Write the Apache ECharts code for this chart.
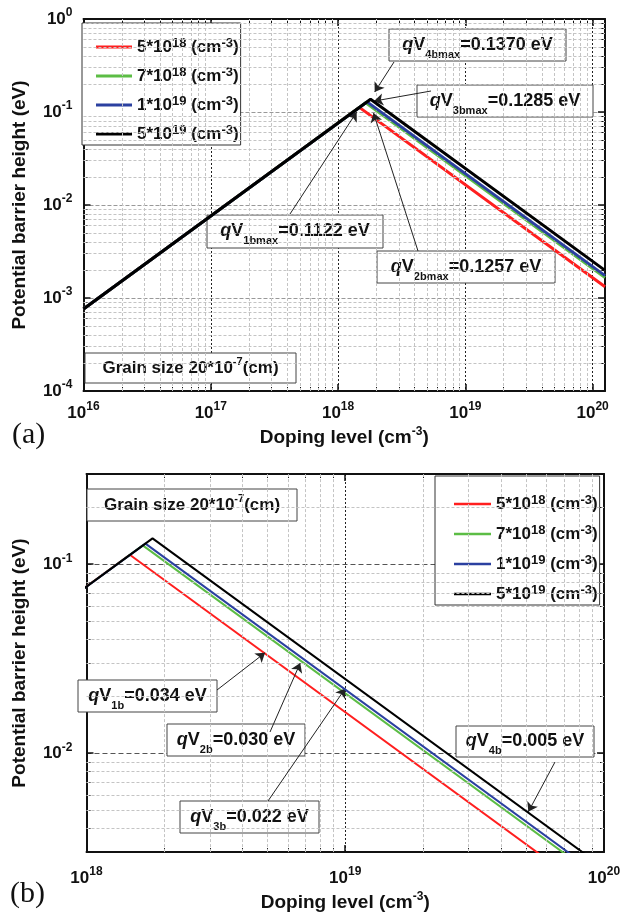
<!DOCTYPE html>
<html>
<head>
<meta charset="utf-8">
<title>Potential barrier height vs doping level</title>
<script src="https://cdn.jsdelivr.net/npm/echarts@6.0.0/dist/echarts.min.js"></script>
<style>
  html, body { margin: 0; padding: 0; background: #fff; }
  #chart { width: 625px; height: 916px; }
</style>
</head>
<body>
<div id="chart"></div>
<script>
var chart = echarts.init(document.getElementById('chart'));
var chartFont = '"Liberation Sans", Arial, sans-serif';

// curves (doping in cm^-3, barrier height in eV)
var seriesNames = ['5*10^18', '7*10^18', '1*10^19', '5*10^19'];
var legendMantissa = ['5', '7', '1', '5'];
var legendExponent = ['18', '18', '19', '19'];
var seriesColors = ['#ff1f1f', '#5cbd45', '#2b40a0', '#000000'];
var dopingStart = 1e16;
var dopingEnd = 1.25e20;
var barrierStart = [7.6e-4, 7.6e-4, 7.6e-4, 7.6e-4];
var peakDoping = [1.47e18, 1.65e18, 1.69e18, 1.80e18];
var peakBarrier = [0.1122, 0.1257, 0.1285, 0.1370];
var barrierEnd = [1.32e-3, 1.66e-3, 1.74e-3, 1.98e-3];

// axis ranges of the two panels
var xRangeA = [1e16, 1.25e20];
var yRangeA = [1e-4, 1];
var xRangeB = [1e18, 1e20];
var yRangeB = [0.003, 0.3];

// callout boxes (pixel box, pixel tail of arrow, arrow head in data units)
var calloutsA = [
  { sub: '4bmax', text: '=0.1370 eV', box: [389, 29, 177, 32], tail: [394, 62], head: [1.94e18, 0.164] },
  { sub: '3bmax', text: '=0.1285 eV', box: [417, 85, 176, 32], tail: [431, 91], head: [1.92e18, 0.131] },
  { sub: '1bmax', text: '=0.1122 eV', box: [207, 215, 176, 33], tail: [290, 214], head: [1.40e18, 0.100] },
  { sub: '2bmax', text: '=0.1257 eV', box: [377, 251, 178, 32], tail: [418, 251], head: [1.90e18, 0.0976] }
];
var calloutsB = [
  { sub: '1b', text: '=0.034 eV', box: [78, 680, 139, 32], tail: [217, 690], head: [4.9e18, 0.034] },
  { sub: '2b', text: '=0.030 eV', box: [167, 724, 138, 32], tail: [270, 732], head: [6.7e18, 0.030] },
  { sub: '3b', text: '=0.022 eV', box: [180, 801, 139, 32], tail: [268, 801], head: [1.0e19, 0.022] },
  { sub: '4b', text: '=0.005 eV', box: [456, 726, 138, 31], tail: [555, 762], head: [5.1e19, 0.0049] }
];

function curve(i) {
  return [[dopingStart, barrierStart[i]], [peakDoping[i], peakBarrier[i]], [dopingEnd, barrierEnd[i]]];
}

// 2..9 x 10^n positions strictly inside a range
function minorValues(range) {
  var out = [];
  var lo = Math.floor(Math.log10(range[0]));
  var hi = Math.ceil(Math.log10(range[1]));
  for (var n = lo; n < hi; n++) {
    for (var k = 2; k <= 9; k++) {
      var v = k * Math.pow(10, n);
      if (v > range[0] * 1.001 && v < range[1] * 0.999) out.push(v);
    }
  }
  return out;
}

function powLabel(v) {
  var e = Math.log10(v);
  var r = Math.round(e);
  if (Math.abs(e - r) > 1e-6) return '';
  return '10{sup|' + r + '}';
}

var supRich = { sup: { fontFamily: chartFont, fontSize: 12, fontWeight: 'bold', color: '#111', lineHeight: 10, verticalAlign: 'top' } };

function makeAxes(dim, gi, range, cfg) {
  var isX = dim === 'x';
  var base = { type: 'log', logBase: 10, gridIndex: gi, min: range[0], max: range[1] };
  var minors = minorValues(range);
  var main = Object.assign({}, base, {
    position: isX ? 'bottom' : 'left',
    axisLine: { show: true, onZero: false, lineStyle: { color: '#111', width: 2 } },
    axisTick: { show: true, inside: true, length: 7, lineStyle: { color: '#111', width: 1.5 } },
    axisLabel: {
      formatter: powLabel, margin: cfg.labelMargin, fontFamily: chartFont, fontSize: 17,
      fontWeight: 'bold', color: '#111', lineHeight: 24, rich: supRich
    },
    splitLine: { show: true, lineStyle: { color: cfg.majorColor, type: cfg.majorDash, width: 1 } },
    name: cfg.name,
    nameLocation: 'middle',
    nameGap: cfg.nameGap,
    nameTextStyle: { fontFamily: chartFont, fontSize: 19, fontWeight: 'bold', color: '#111', lineHeight: 24, rich: supRich }
  });
  var mirror = Object.assign({}, base, {
    position: isX ? 'top' : 'right',
    axisLine: { show: true, onZero: false, lineStyle: { color: '#111', width: 2 } },
    axisTick: { show: true, inside: true, length: 7, lineStyle: { color: '#111', width: 1.5 } },
    axisLabel: { show: false },
    splitLine: { show: false }
  });
  function minorAxis(pos) {
    return Object.assign({}, base, {
      position: pos,
      axisLine: { show: false, onZero: false },
      axisTick: { show: true, inside: true, length: 4, customValues: minors, lineStyle: { color: '#111', width: 1 } },
      axisLabel: { show: false },
      splitLine: { show: false }
    });
  }
  return [main, mirror, minorAxis(isX ? 'bottom' : 'left'), minorAxis(isX ? 'top' : 'right')];
}

var xName = 'Doping level (cm{sup|-3})';
var yName = 'Potential barrier height (eV)';

var xAxes = makeAxes('x', 0, xRangeA, { labelMargin: 10, majorColor: '#222', majorDash: [2, 2], name: xName, nameGap: 35 })
  .concat(makeAxes('x', 1, xRangeB, { labelMargin: 14, majorColor: '#222', majorDash: [2, 2], name: xName, nameGap: 34 }));
var yAxes = makeAxes('y', 0, yRangeA, { labelMargin: 11, majorColor: '#999', majorDash: [4, 2], name: yName, nameGap: 47 })
  .concat(makeAxes('y', 1, yRangeB, { labelMargin: 14, majorColor: '#555', majorDash: [5, 3], name: yName, nameGap: 47 }));

var series = [];
[0, 1].forEach(function (gi) {
  var xr = gi === 0 ? xRangeA : xRangeB;
  var yr = gi === 0 ? yRangeA : yRangeB;
  // minor grid lines
  series.push({
    type: 'line', name: 'minor-grid-' + gi, xAxisIndex: 4 * gi, yAxisIndex: 4 * gi, data: [], z: 1, silent: true,
    markLine: {
      silent: true, animation: false, precision: 12, symbol: ['none', 'none'], label: { show: false },
      emphasis: { disabled: true },
      lineStyle: { color: '#c4c4c4', type: [3, 2], width: 1 },
      data: minorValues(xr).map(function (v) { return { xAxis: v }; })
        .concat(minorValues(yr).map(function (v) { return { yAxis: v }; }))
    }
  });
  seriesNames.forEach(function (name, i) {
    series.push({
      type: 'line', name: name, xAxisIndex: 4 * gi, yAxisIndex: 4 * gi,
      data: curve(i), symbol: 'none', showSymbol: false, z: 3 + i, silent: true,
      lineStyle: { color: seriesColors[i], width: gi === 0 ? 3 : 2 },
      itemStyle: { color: seriesColors[i] }
    });
  });
  // callout arrows
  var callouts = gi === 0 ? calloutsA : calloutsB;
  series.push({
    type: 'line', name: 'arrows-' + gi, xAxisIndex: 4 * gi, yAxisIndex: 4 * gi, data: [], z: 10, silent: true,
    markLine: {
      silent: true, animation: false, symbol: ['none', 'arrow'], symbolSize: 9, label: { show: false },
      emphasis: { disabled: true },
      lineStyle: { color: '#222', type: 'solid', width: 1 },
      data: callouts.map(function (c) {
        return [{ x: c.tail[0], y: c.tail[1] }, { coord: c.head }];
      })
    }
  });
});

function legendFor(gi) {
  var a = gi === 0;
  return {
    data: seriesNames,
    orient: 'vertical',
    left: a ? 82 : 435,
    top: a ? 23 : 476,
    padding: a ? [14, 2, 1, 14] : [18, 2, 1, 19],
    itemGap: a ? 9 : 10,
    itemWidth: a ? 36 : 37,
    itemHeight: a ? 3 : 2.5,
    icon: 'rect',
    itemStyle: { borderWidth: 0, decal: 'none' },
    selectedMode: false,
    backgroundColor: '#fff',
    borderColor: '#333',
    borderWidth: 1,
    formatter: function (name) {
      var i = seriesNames.indexOf(name);
      return legendMantissa[i] + '*10{sup|' + legendExponent[i] + '} (cm{sup|-3})';
    },
    textStyle: {
      fontFamily: chartFont, fontSize: 17, fontWeight: 'bold', color: '#111', lineHeight: 20,
      rich: { sup: { fontFamily: chartFont, fontSize: 13, fontWeight: 'bold', color: '#111', lineHeight: 8, verticalAlign: 'top' } }
    }
  };
}

var calloutRich = {
  q: { fontFamily: chartFont, fontSize: 18, fontWeight: 'bold', fontStyle: 'italic', fill: '#111', lineHeight: 30 },
  v: { fontFamily: chartFont, fontSize: 18, fontWeight: 'bold', fill: '#111', lineHeight: 30 },
  sub: { fontFamily: chartFont, fontSize: 11, fontWeight: 'bold', fill: '#111', lineHeight: 16, verticalAlign: 'bottom' },
  t: { fontFamily: chartFont, fontSize: 18, fontWeight: 'bold', fill: '#111', lineHeight: 30 }
};

function boxGraphic(box, text, rich) {
  return {
    type: 'group', x: box[0], y: box[1],
    children: [
      { type: 'rect', z: 2, shape: { x: 0, y: 0, width: box[2], height: box[3] }, style: { fill: '#fff', stroke: '#444', lineWidth: 1 } },
      { type: 'text', z: 2, x: box[2] / 2, y: box[3] / 2, style: { text: text, align: 'center', verticalAlign: 'middle', rich: rich } }
    ]
  };
}

var grainRich = {
  m: { fontFamily: chartFont, fontSize: 17, fontWeight: 'bold', fill: '#111', lineHeight: 24 },
  sup: { fontFamily: chartFont, fontSize: 11, fontWeight: 'bold', fill: '#111', lineHeight: 10, verticalAlign: 'top' }
};
var grainText = '{m|Grain size 20*10}{sup|-7}{m|(cm)}';

var graphics = [
  boxGraphic([85, 353, 211, 30], grainText, grainRich),
  boxGraphic([87, 489, 210, 32], grainText, grainRich)
];
calloutsA.concat(calloutsB).forEach(function (c) {
  graphics.push(boxGraphic(c.box, '{q|q}{v|V}{sub|' + c.sub + '}{t|' + c.text + '}', calloutRich));
});
graphics.push({ type: 'text', x: 12, y: 420, z: 2, style: { text: '(a)', font: '30px "Liberation Serif", serif', fill: '#111', align: 'left', verticalAlign: 'top' } });
graphics.push({ type: 'text', x: 10, y: 879, z: 2, style: { text: '(b)', font: '30px "Liberation Serif", serif', fill: '#111', align: 'left', verticalAlign: 'top' } });

var option = {
  animation: false,
  backgroundColor: '#fff',
  grid: [
    { left: 77, top: 19, width: 528, height: 372 },
    { left: 76, top: 474, width: 528, height: 383 }
  ],
  xAxis: xAxes,
  yAxis: yAxes,
  legend: [legendFor(0), legendFor(1)],
  series: series,
  graphic: graphics
};

chart.setOption(option);
</script>
</body>
</html>
